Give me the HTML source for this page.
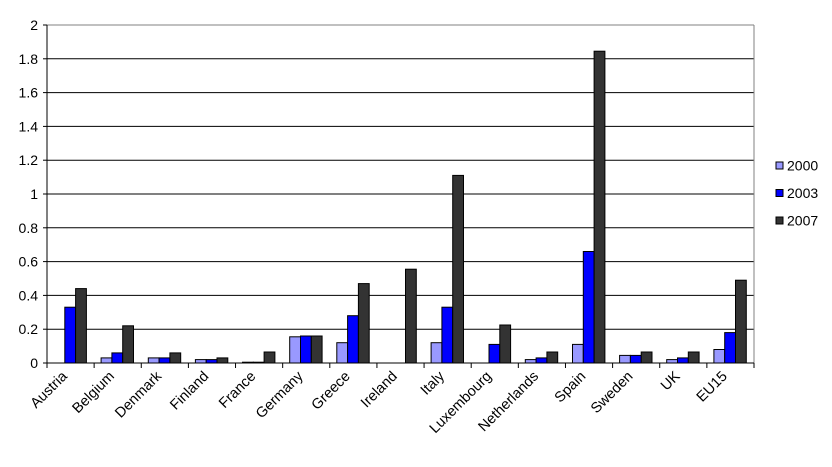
<!DOCTYPE html>
<html><head><meta charset="utf-8"><style>body{margin:0;background:#fff}svg{display:block}</style></head><body>
<svg width="832" height="467" xmlns="http://www.w3.org/2000/svg" font-family="Liberation Sans, sans-serif" font-size="14">
<g stroke="#000">
<line x1="47" x2="754" y1="329.2" y2="329.2"/><line x1="47" x2="754" y1="295.4" y2="295.4"/><line x1="47" x2="754" y1="261.6" y2="261.6"/><line x1="47" x2="754" y1="227.8" y2="227.8"/><line x1="47" x2="754" y1="194" y2="194"/><line x1="47" x2="754" y1="160.2" y2="160.2"/><line x1="47" x2="754" y1="126.4" y2="126.4"/><line x1="47" x2="754" y1="92.6" y2="92.6"/><line x1="47" x2="754" y1="58.8" y2="58.8"/>
<line x1="47" x2="754" y1="25" y2="25" stroke="#808080"/><line x1="754" x2="754" y1="25" y2="363" stroke="#808080"/>
<line x1="43" x2="47" y1="363" y2="363"/><line x1="43" x2="47" y1="329.2" y2="329.2"/><line x1="43" x2="47" y1="295.4" y2="295.4"/><line x1="43" x2="47" y1="261.6" y2="261.6"/><line x1="43" x2="47" y1="227.8" y2="227.8"/><line x1="43" x2="47" y1="194" y2="194"/><line x1="43" x2="47" y1="160.2" y2="160.2"/><line x1="43" x2="47" y1="126.4" y2="126.4"/><line x1="43" x2="47" y1="92.6" y2="92.6"/><line x1="43" x2="47" y1="58.8" y2="58.8"/><line x1="43" x2="47" y1="25" y2="25"/>
</g>
<g text-anchor="end">
<text x="38" y="368">0</text><text x="38" y="334.2">0.2</text><text x="38" y="300.4">0.4</text><text x="38" y="266.6">0.6</text><text x="38" y="232.8">0.8</text><text x="38" y="199">1</text><text x="38" y="165.2">1.2</text><text x="38" y="131.4">1.4</text><text x="38" y="97.6">1.6</text><text x="38" y="63.8">1.8</text><text x="38" y="30">2</text>
</g>
<g stroke="#000">
<g fill="#9999ff">
<rect x="101.1" y="357.9" width="10.8" height="5.1"/><rect x="148.3" y="357.9" width="10.8" height="5.1"/><rect x="195.4" y="359.6" width="10.8" height="3.4"/><rect x="242.5" y="362.2" width="10.8" height="0.8"/><rect x="289.7" y="336.8" width="10.8" height="26.2"/><rect x="336.8" y="342.7" width="10.8" height="20.3"/><rect x="431.1" y="342.7" width="10.8" height="20.3"/><rect x="525.3" y="359.6" width="10.8" height="3.4"/><rect x="572.5" y="344.4" width="10.8" height="18.6"/><rect x="619.6" y="355.4" width="10.8" height="7.6"/><rect x="666.7" y="359.6" width="10.8" height="3.4"/><rect x="713.9" y="349.5" width="10.8" height="13.5"/>
</g>
<g fill="#0000ff">
<rect x="64.8" y="307.2" width="10.8" height="55.8"/><rect x="111.9" y="352.9" width="10.8" height="10.1"/><rect x="159.1" y="357.9" width="10.8" height="5.1"/><rect x="206.2" y="359.6" width="10.8" height="3.4"/><rect x="253.3" y="362.2" width="10.8" height="0.8"/><rect x="300.5" y="336" width="10.8" height="27"/><rect x="347.6" y="315.7" width="10.8" height="47.3"/><rect x="441.9" y="307.2" width="10.8" height="55.8"/><rect x="489" y="344.4" width="10.8" height="18.6"/><rect x="536.1" y="357.9" width="10.8" height="5.1"/><rect x="583.3" y="251.5" width="10.8" height="111.5"/><rect x="630.4" y="355.4" width="10.8" height="7.6"/><rect x="677.5" y="357.9" width="10.8" height="5.1"/><rect x="724.7" y="332.6" width="10.8" height="30.4"/>
</g>
<g fill="#333333">
<rect x="75.6" y="288.6" width="10.8" height="74.4"/><rect x="122.7" y="325.8" width="10.8" height="37.2"/><rect x="169.9" y="352.9" width="10.8" height="10.1"/><rect x="217" y="357.9" width="10.8" height="5.1"/><rect x="264.1" y="352" width="10.8" height="11"/><rect x="311.3" y="336" width="10.8" height="27"/><rect x="358.4" y="283.6" width="10.8" height="79.4"/><rect x="405.5" y="269.2" width="10.8" height="93.8"/><rect x="452.7" y="175.4" width="10.8" height="187.6"/><rect x="499.8" y="325" width="10.8" height="38"/><rect x="546.9" y="352" width="10.8" height="11"/><rect x="594.1" y="51.2" width="10.8" height="311.8"/><rect x="641.2" y="352" width="10.8" height="11"/><rect x="688.3" y="352" width="10.8" height="11"/><rect x="735.5" y="280.2" width="10.8" height="82.8"/>
</g>
<line x1="47" x2="754" y1="363" y2="363"/><line x1="47" x2="47" y1="25" y2="363"/>
<line x1="47" x2="47" y1="363" y2="368"/><line x1="94.13" x2="94.13" y1="363" y2="368"/><line x1="141.27" x2="141.27" y1="363" y2="368"/><line x1="188.4" x2="188.4" y1="363" y2="368"/><line x1="235.53" x2="235.53" y1="363" y2="368"/><line x1="282.67" x2="282.67" y1="363" y2="368"/><line x1="329.8" x2="329.8" y1="363" y2="368"/><line x1="376.93" x2="376.93" y1="363" y2="368"/><line x1="424.07" x2="424.07" y1="363" y2="368"/><line x1="471.2" x2="471.2" y1="363" y2="368"/><line x1="518.33" x2="518.33" y1="363" y2="368"/><line x1="565.47" x2="565.47" y1="363" y2="368"/><line x1="612.6" x2="612.6" y1="363" y2="368"/><line x1="659.73" x2="659.73" y1="363" y2="368"/><line x1="706.87" x2="706.87" y1="363" y2="368"/><line x1="754" x2="754" y1="363" y2="368"/>
</g>
<g text-anchor="end" font-size="14.5">
<text transform="translate(68,377) rotate(-45)">Austria</text>
<text transform="translate(115.1,377) rotate(-45)">Belgium</text>
<text transform="translate(162.3,377) rotate(-45)">Denmark</text>
<text transform="translate(209.4,377) rotate(-45)">Finland</text>
<text transform="translate(256.5,377) rotate(-45)">France</text>
<text transform="translate(303.7,377) rotate(-45)">Germany</text>
<text transform="translate(350.8,377) rotate(-45)">Greece</text>
<text transform="translate(397.9,377) rotate(-45)">Ireland</text>
<text transform="translate(445.1,377) rotate(-45)">Italy</text>
<text transform="translate(492.2,377) rotate(-45)">Luxembourg</text>
<text transform="translate(539.3,377) rotate(-45)">Netherlands</text>
<text transform="translate(586.5,377) rotate(-45)">Spain</text>
<text transform="translate(633.6,377) rotate(-45)">Sweden</text>
<text transform="translate(680.7,377) rotate(-45)">UK</text>
<text transform="translate(727.9,377) rotate(-45)">EU15</text>
</g>
<rect x="776" y="162" width="7" height="7" fill="#9999ff" stroke="#000"/><text x="787" y="170.5">2000</text>
<rect x="776" y="189.5" width="7" height="7" fill="#0000ff" stroke="#000"/><text x="787" y="198">2003</text>
<rect x="776" y="217" width="7" height="7" fill="#333333" stroke="#000"/><text x="787" y="225.5">2007</text>
</svg>
</body></html>
